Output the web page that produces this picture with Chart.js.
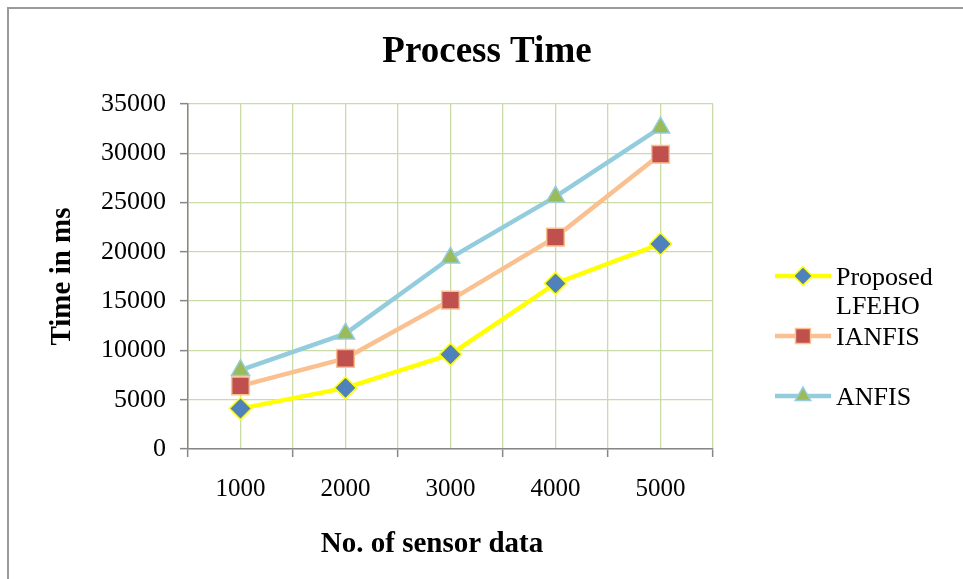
<!DOCTYPE html>
<html>
<head>
<meta charset="utf-8">
<title>Process Time</title>
<script src="https://cdn.jsdelivr.net/npm/chart.js@4/dist/chart.umd.min.js"></script>
<style>
  html, body { margin: 0; padding: 0; background: #fff; }
  #wrap { position: relative; width: 963px; height: 579px; overflow: hidden; }
  #frame { position: absolute; left: 7px; top: 7px; width: 1000px; height: 1000px;
           border-left: 2px solid #9a9a9a; border-top: 2px solid #9a9a9a; }
  #chart { position: absolute; left: 0; top: 0; }
</style>
</head>
<body>
<div id="wrap">
  <div id="frame"></div>
  <canvas id="chart" width="963" height="579"></canvas>
</div>
<script>
// Number of sensor data points on the x axis
const categories = ['1000', '2000', '3000', '4000', '5000'];

// Process time in ms for each method
const proposedLFEHO = [4100, 6200, 9600, 16800, 20800];
const ianfis = [6400, 9200, 15100, 21500, 29900];
const anfis = [8000, 11700, 19400, 25600, 32600];

// Value axis range
const yMin = 0;
const yMax = 35000;
const yStep = 5000;

const chartTitle = 'Process Time';
const xTitle = 'No. of sensor data';
const yTitle = 'Time in ms';

const serif = "'Liberation Serif', 'Times New Roman', serif";
const gridGreen = '#c9dba6';
const axisGray = '#878787';

// Page title and x-axis title, centred on the whole figure rather than the plot
const figureTitles = {
  id: 'figureTitles',
  afterDraw(chart) {
    const ctx = chart.ctx;
    ctx.save();
    ctx.fillStyle = '#000';
    ctx.textAlign = 'center';
    ctx.textBaseline = 'middle';
    ctx.font = 'bold 37px ' + serif;
    ctx.fillText(chartTitle, 487, 52);
    ctx.font = 'bold 29px ' + serif;
    ctx.fillText(xTitle, 432, 545);
    ctx.restore();
  }
};

// Right-hand legend, drawn on the canvas so the first label can wrap onto two lines
const sideLegend = {
  id: 'sideLegend',
  afterDraw(chart) {
    const ctx = chart.ctx;
    const x0 = 775, x1 = 831, textX = 836;
    const rowY = [276, 336, 396];
    ctx.save();
    chart.data.datasets.forEach((ds, i) => {
      const y = rowY[i];
      ctx.beginPath();
      ctx.strokeStyle = ds.borderColor;
      ctx.lineWidth = ds.borderWidth;
      ctx.lineCap = 'butt';
      ctx.moveTo(x0, y);
      ctx.lineTo(x1, y);
      ctx.stroke();

      ctx.fillStyle = ds.pointBackgroundColor;
      ctx.strokeStyle = ds.pointBorderColor;
      ctx.lineWidth = ds.pointBorderWidth;
      Chart.helpers.drawPoint(ctx, {
        pointStyle: ds.pointStyle,
        radius: ds.pointRadius * 0.85,
        borderWidth: ds.pointBorderWidth,
        rotation: 0
      }, (x0 + x1) / 2, y);

      ctx.fillStyle = '#000';
      ctx.font = '26px ' + serif;
      ctx.textAlign = 'left';
      ctx.textBaseline = 'middle';
      const words = ds.label.split(' ');
      const lines = [];
      let cur = '';
      words.forEach(w => {
        const test = cur ? cur + ' ' + w : w;
        if (cur && ctx.measureText(test).width > 118) { lines.push(cur); cur = w; }
        else { cur = test; }
      });
      lines.push(cur);
      lines.forEach((ln, k) => ctx.fillText(ln, textX, y + 2 + k * 29));
    });
    ctx.restore();
  }
};

new Chart(document.getElementById('chart'), {
  type: 'line',
  data: {
    labels: categories,
    datasets: [
      {
        label: 'Proposed LFEHO',
        data: proposedLFEHO,
        borderColor: '#ffff00',
        borderWidth: 4.5,
        pointStyle: 'rectRot',
        pointRadius: 11,
        pointBackgroundColor: '#4f81bd',
        pointBorderColor: '#ffff00',
        pointBorderWidth: 1.5,
        tension: 0,
        xAxisID: 'x',
        yAxisID: 'y'
      },
      {
        label: 'IANFIS',
        data: ianfis,
        borderColor: '#fac090',
        borderWidth: 4.5,
        pointStyle: 'rect',
        pointRadius: 12.5,
        pointBackgroundColor: '#c0504d',
        pointBorderColor: '#fac090',
        pointBorderWidth: 1.5,
        tension: 0,
        xAxisID: 'x',
        yAxisID: 'y'
      },
      {
        label: 'ANFIS',
        data: anfis,
        borderColor: '#93cddd',
        borderWidth: 4.5,
        pointStyle: 'triangle',
        pointRadius: 10.5,
        pointBackgroundColor: '#9bbb59',
        pointBorderColor: '#93cddd',
        pointBorderWidth: 1.5,
        tension: 0,
        xAxisID: 'x',
        yAxisID: 'y'
      }
    ]
  },
  options: {
    responsive: false,
    maintainAspectRatio: false,
    animation: false,
    events: [],
    layout: { padding: { left: 0, right: 250, top: 104, bottom: 0 } },
    plugins: {
      legend: { display: false },
      tooltip: { enabled: false },
      title: { display: false }
    },
    scales: {
      x: {
        type: 'category',
        position: 'bottom',
        offset: true,
        afterFit(scale) { scale.height = 130; },
        grid: { offset: true, color: gridGreen, lineWidth: 1.3, tickColor: axisGray, tickLength: 8, tickWidth: 1.5 },
        border: { color: axisGray, width: 1.5 },
        ticks: { color: '#000', font: { family: serif, size: 25 }, padding: 17, maxRotation: 0 },
        title: { display: false }
      },
      xMid: {
        type: 'category',
        position: 'bottom',
        labels: categories,
        offset: true,
        afterFit(scale) { scale.height = 0; },
        grid: { offset: false, color: gridGreen, lineWidth: 1.3, drawTicks: false },
        border: { display: false },
        ticks: { display: false }
      },
      y: {
        type: 'linear',
        position: 'left',
        min: yMin,
        max: yMax,
        afterFit(scale) { scale.width = 188; },
        grid: { color: gridGreen, lineWidth: 1.3, tickColor: axisGray, tickLength: 8, tickWidth: 1.5 },
        border: { color: axisGray, width: 1.5 },
        ticks: {
          stepSize: yStep,
          color: '#000',
          font: { family: serif, size: 26 },
          padding: 14,
          callback: v => String(v)
        },
        title: {
          display: true,
          text: yTitle,
          color: '#000',
          font: { family: serif, size: 29, weight: 'bold', lineHeight: 1.2 },
          padding: { top: 45, bottom: 0 }
        }
      }
    }
  },
  plugins: [figureTitles, sideLegend]
});
</script>
</body>
</html>
